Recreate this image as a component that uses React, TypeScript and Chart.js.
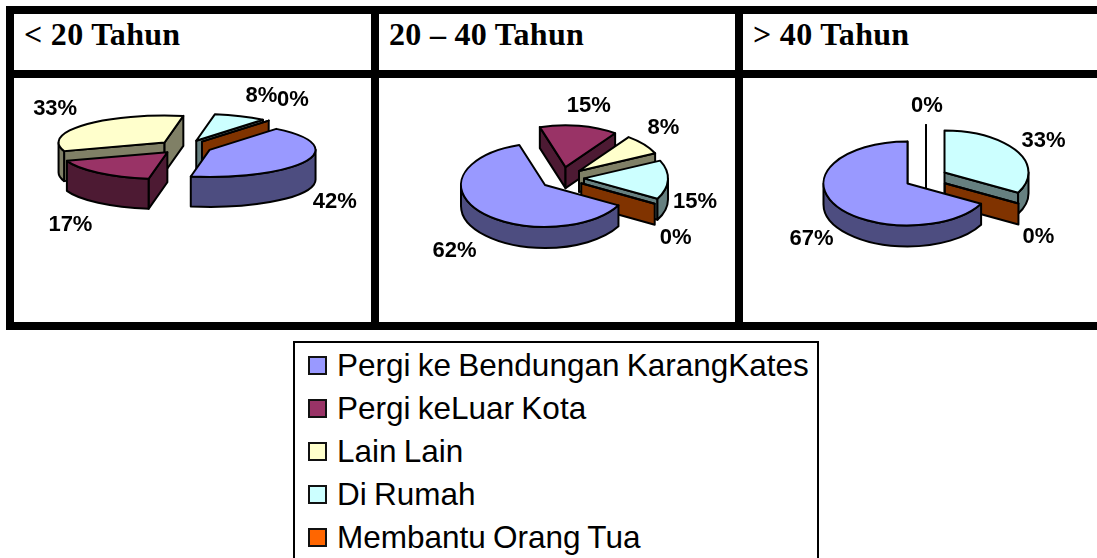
import React, { useEffect, useRef } from "react";
import { Chart, registerables } from "chart.js";

Chart.register(...registerables);

const ageGroups = ["< 20 Tahun", "20 – 40 Tahun", "> 40 Tahun"];
const activities = [
  "Pergi ke Bendungan KarangKates",
  "Pergi keLuar Kota",
  "Lain Lain",
  "Di Rumah",
  "Membantu Orang Tua",
];
const valuesUnder20 = [42, 17, 33, 8, 0];
const values20to40 = [62, 15, 8, 15, 0];
const valuesOver40 = [67, 0, 0, 33, 0];

const sliceColors = ["#9999FF", "#993366", "#FFFFCC", "#CCFFFF", "#FF6600"];
const wallColors = ["#4D4D80", "#4D1A33", "#808066", "#668080", "#803300"];

type Panel = {
  values: number[];
  cx: number;
  cy: number;
  radius: number;
  tilt: number;
  depth: number;
  explode: number;
  rotation: number;
  nudges: number[][];
};

const panels: Panel[] = [
  {
    values: valuesUnder20, cx: 185, cy: 147, radius: 106, tilt: 0.255, depth: 30, explode: 27, rotation: 39,
    nudges: [[7, 7], [-12, 17], [-11, -13], [11, -16], [9, -17]],
  },
  {
    values: values20to40, cx: 562, cy: 178, radius: 84, tilt: 0.5, depth: 21, explode: 22, rotation: 119,
    nudges: [[-7, 10], [6, -9], [1, -10], [3, 0], [0, 6]],
  },
  {
    values: valuesOver40, cx: 926, cy: 178, radius: 84, tilt: 0.5, depth: 21, explode: 21.5, rotation: 118.8,
    nudges: [[-3, 6], [1, -8], [0, 0], [6, -5], [-1, 6]],
  },
];

const CANVAS_W = 360;
const CANVAS_H = 240;
const EPS = 1e-6;

function pie3dPlugin(panel: Panel) {
  const { tilt, depth, explode } = panel;

  const drawSlice = (ctx: CanvasRenderingContext2D, arc: any, index: number) => {
    const { x, y, startAngle: a0, endAngle: a1, outerRadius: r } = arc;
    const mid = (a0 + a1) / 2;
    const ax = x + Math.cos(mid) * explode;
    const ay = y + Math.sin(mid) * explode * tilt;
    const ry = r * tilt;
    const rim = (a: number) => [ax + Math.cos(a) * r, ay + Math.sin(a) * ry];

    ctx.lineWidth = 2;
    ctx.lineJoin = "round";
    ctx.strokeStyle = "#000";

    const wall = (a: number) => {
      const [px, py] = rim(a);
      ctx.beginPath();
      ctx.moveTo(ax, ay);
      ctx.lineTo(px, py);
      ctx.lineTo(px, py + depth);
      ctx.lineTo(ax, ay + depth);
      ctx.closePath();
      ctx.fillStyle = wallColors[index];
      ctx.fill();
      ctx.stroke();
    };
    if (Math.sin(a0 - Math.PI / 2) > EPS) wall(a0);
    if (Math.sin(a1 + Math.PI / 2) > -EPS) wall(a1);

    for (let n = -2; n <= 2; n++) {
      const lo = Math.max(a0, n * 2 * Math.PI);
      const hi = Math.min(a1, n * 2 * Math.PI + Math.PI);
      if (hi <= lo) continue;
      ctx.beginPath();
      ctx.ellipse(ax, ay, r, ry, 0, lo, hi);
      ctx.ellipse(ax, ay + depth, r, ry, 0, hi, lo, true);
      ctx.closePath();
      ctx.fillStyle = wallColors[index];
      ctx.fill();
      ctx.stroke();
    }

    ctx.beginPath();
    ctx.moveTo(ax, ay);
    ctx.ellipse(ax, ay, r, ry, 0, a0, a1);
    ctx.closePath();
    ctx.fillStyle = arc.options.backgroundColor;
    ctx.fill();
    ctx.stroke();
  };

  return {
    id: "pie3d",
    beforeDatasetDraw(chart: any) {
      const ctx = chart.ctx as CanvasRenderingContext2D;
      const arcs = chart.getDatasetMeta(0).data as any[];
      const order = arcs
        .map((arc, i) => ({ arc, i, key: Math.sin((arc.startAngle + arc.endAngle) / 2) }))
        .sort((p, q) => p.key - q.key);
      ctx.save();
      order.forEach(({ arc, i }) => drawSlice(ctx, arc, i));
      ctx.restore();
      return false;
    },
    afterDatasetsDraw(chart: any) {
      const ctx = chart.ctx as CanvasRenderingContext2D;
      const arcs = chart.getDatasetMeta(0).data as any[];
      const values = chart.data.datasets[0].data as number[];
      ctx.save();
      ctx.font = 'bold 22px "Liberation Sans", Arial, sans-serif';
      ctx.fillStyle = "#000";
      ctx.textAlign = "center";
      ctx.textBaseline = "middle";
      arcs.forEach((arc, i) => {
        if (values[i] === 0 && i > 0 && values[i - 1] === 0) return;
        const mid = (arc.startAngle + arc.endAngle) / 2;
        const reach = arc.outerRadius + explode + 24;
        const lift = Math.sin(mid) > 0 ? depth : 0;
        const lx = arc.x + Math.cos(mid) * reach + panel.nudges[i][0];
        const ly = arc.y + Math.sin(mid) * reach * tilt + lift + panel.nudges[i][1];
        ctx.fillText(`${values[i]}%`, lx, ly + 1);
      });
      ctx.restore();
    },
  };
}

function PiePanel({ panel, title }: { panel: Panel; title: string }) {
  const ref = useRef<HTMLCanvasElement>(null);
  useEffect(() => {
    const chart = new Chart(ref.current!, {
      type: "pie",
      data: {
        labels: activities,
        datasets: [{ data: panel.values, backgroundColor: sliceColors, borderWidth: 0 }],
      },
      options: {
        responsive: false,
        animation: false,
        rotation: panel.rotation,
        radius: panel.radius,
        layout: { padding: 0 },
        plugins: { legend: { display: false }, tooltip: { enabled: false } },
      } as any,
      plugins: [pie3dPlugin(panel)],
    });
    return () => chart.destroy();
  }, [panel]);
  return (
    <canvas
      ref={ref}
      width={CANVAS_W}
      height={CANVAS_H}
      aria-label={title}
      style={{
        position: "absolute",
        left: panel.cx - CANVAS_W / 2,
        top: panel.cy - CANVAS_H / 2,
        width: CANVAS_W,
        height: CANVAS_H,
      }}
    />
  );
}

const bar = (left: number, top: number, width: number, height: number): React.CSSProperties => ({
  position: "absolute",
  left,
  top,
  width,
  height,
  background: "#000",
});

const titleLefts = [24, 389, 753];
const legendRowCenters = [365, 408, 451, 494, 537];

export default function App() {
  return (
    <div style={{ position: "absolute", left: 0, top: 0, width: 1097, height: 558, overflow: "hidden", background: "#fff" }}>
      <div style={bar(6, 6, 1091, 8)} />
      <div style={bar(6, 70, 1091, 8)} />
      <div style={bar(6, 322, 1091, 8)} />
      <div style={bar(6, 6, 8, 324)} />
      <div style={bar(371, 6, 8, 324)} />
      <div style={bar(735, 6, 8, 324)} />
      {ageGroups.map((t, i) => (
        <div
          key={t}
          style={{
            position: "absolute",
            left: titleLefts[i],
            top: 16,
            font: 'bold 32px "Liberation Serif", serif',
            letterSpacing: 0.3,
            lineHeight: "36px",
            whiteSpace: "pre",
            color: "#000",
          }}
        >
          {t}
        </div>
      ))}
      {panels.map((p, i) => (
        <PiePanel key={i} panel={p} title={ageGroups[i]} />
      ))}
      <div
        style={{
          position: "absolute",
          left: 293,
          top: 341,
          width: 526,
          height: 240,
          border: "2px solid #000",
          boxSizing: "border-box",
        }}
      />
      {activities.map((a, i) => (
        <React.Fragment key={a}>
          <div
            style={{
              position: "absolute",
              left: 308,
              top: legendRowCenters[i] - 9,
              width: 19,
              height: 19,
              boxSizing: "border-box",
              border: "2px solid #111",
              background: sliceColors[i],
            }}
          />
          <div
            style={{
              position: "absolute",
              left: 337,
              top: legendRowCenters[i] - 20,
              font: '31.5px "Liberation Sans", Arial, sans-serif',
              wordSpacing: -1.5,
              lineHeight: "40px",
              whiteSpace: "pre",
              color: "#000",
            }}
          >
            {a}
          </div>
        </React.Fragment>
      ))}
    </div>
  );
}
